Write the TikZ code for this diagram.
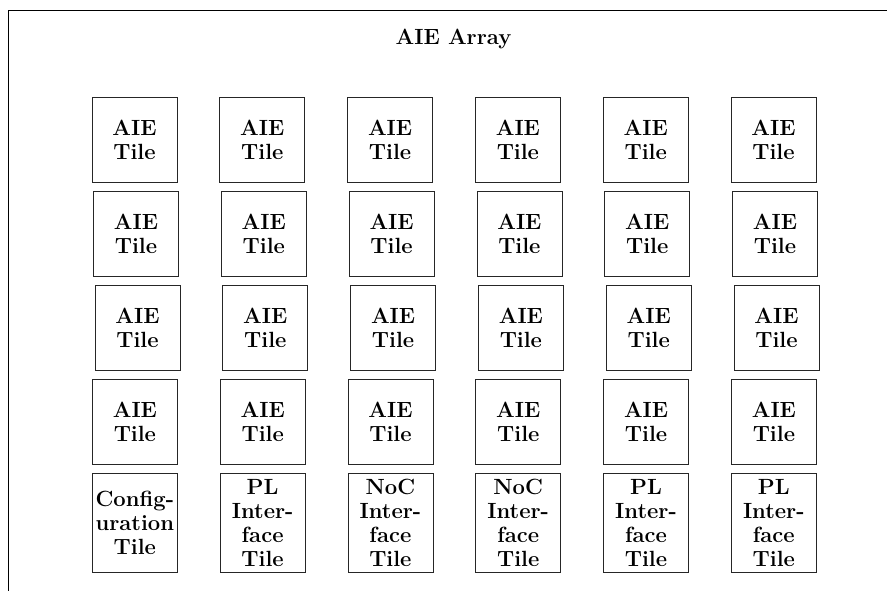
\documentclass[tikz,border=0pt]{standalone}
\usepackage{fontspec}
\begin{document}
\begin{tikzpicture}[x=1pt,y=-1pt,
  tile/.style={draw=black!85,line width=0.8pt,minimum width=85pt,minimum height=85pt,inner sep=0pt,align=center,font=\fontsize{22}{24}\selectfont\bfseries},
  iftile/.style={tile,minimum height=99pt},
  ttl/.style={font=\fontsize{22}{24}\selectfont\bfseries,inner sep=0pt,anchor=base}]
\useasboundingbox (0,0) rectangle (887,590);
\clip (0,0) rectangle (887,590);
\draw[line width=0.9pt] (8,10) rectangle (905,610);
\node[ttl] (title) at (453.5,44) {AIE Array};
\foreach \r/\y/\dx in {1/140.3/0,2/233.8/1.5,3/327.5/3,4/422/0.4}{
  \foreach \c in {1,...,6}{
    \node[tile] (t\r\c) at ({134.5+127.8*(\c-1)+\dx},\y) {AIE\\Tile};
  }
}
\node[iftile] (t51) at ({134.5+0.3},522.7) {Config-\\uration\\Tile};
\node[iftile] (t52) at ({134.5+127.8+0.3},522.7) {PL\\Inter-\\face\\Tile};
\node[iftile] (t53) at ({134.5+2*127.8+0.3},522.7) {NoC\\Inter-\\face\\Tile};
\node[iftile] (t54) at ({134.5+3*127.8+0.3},522.7) {NoC\\Inter-\\face\\Tile};
\node[iftile] (t55) at ({134.5+4*127.8+0.3},522.7) {PL\\Inter-\\face\\Tile};
\node[iftile] (t56) at ({134.5+5*127.8+0.3},522.7) {PL\\Inter-\\face\\Tile};
\end{tikzpicture}
\end{document}
